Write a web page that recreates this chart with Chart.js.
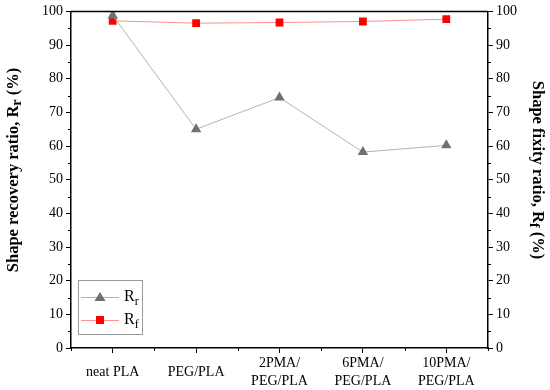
<!DOCTYPE html>
<html>
<head>
<meta charset="utf-8">
<script src="https://cdn.jsdelivr.net/npm/chart.js@4"></script>
<style>
    html, body { margin: 0; padding: 0; background: #fff; }
    #wrap { width: 550px; height: 390px; }
</style>
</head>
<body>
<div id="wrap"><canvas id="grafico"></canvas></div>
<script>
const amostras = ["neat PLA", "PEG/PLA", ["2PMA/", "PEG/PLA"], ["6PMA/", "PEG/PLA"], ["10PMA/", "PEG/PLA"]];
const valoresRr = [98.8, 65.0, 74.4, 58.2, 60.2];
const valoresRf = [97.2, 96.5, 96.7, 97.0, 97.7];

const fonte = "'Liberation Serif', 'Times New Roman', serif";

// minor ticks, top frame, titles with subscripts and the inner legend
const extras = {
    id: "extras",
    afterDraw(chart) {
        const ctx = chart.ctx;
        const area = chart.chartArea;
        const x = chart.scales.x;
        const y = chart.scales.y;
        const y1 = chart.scales.y1;

        ctx.save();
        ctx.strokeStyle = "#000";
        ctx.lineWidth = 1.5;
        ctx.beginPath();
        ctx.moveTo(area.left, area.top);
        ctx.lineTo(area.right, area.top);
        ctx.stroke();

        ctx.lineWidth = 1;
        ctx.beginPath();
        for (let v = 5; v < 100; v += 10) {
            const py = Math.round(y.getPixelForValue(v)) + 0.5;
            ctx.moveTo(area.left, py);
            ctx.lineTo(area.left - 3, py);
            const py1 = Math.round(y1.getPixelForValue(v)) + 0.5;
            ctx.moveTo(area.right, py1);
            ctx.lineTo(area.right + 3, py1);
        }
        const passo = x.getPixelForValue(1) - x.getPixelForValue(0);
        for (let i = 0; i <= amostras.length; i++) {
            const px = Math.round(x.getPixelForValue(0) - passo / 2 + i * passo) + 0.5;
            ctx.moveTo(px, area.bottom);
            ctx.lineTo(px, area.bottom + 3);
        }
        ctx.stroke();

        function tituloComSub(antes, sub, depois) {
            ctx.font = "bold 16.5px " + fonte;
            const w1 = ctx.measureText(antes).width;
            const w3 = ctx.measureText(depois).width;
            ctx.font = "bold 14px " + fonte;
            const w2 = ctx.measureText(sub).width;
            const total = w1 + w2 + w3;
            let cx = -total / 2;
            ctx.textBaseline = "middle";
            ctx.textAlign = "left";
            ctx.font = "bold 16.5px " + fonte;
            ctx.fillText(antes, cx, 0);
            cx += w1;
            ctx.font = "bold 14px " + fonte;
            ctx.fillText(sub, cx, 3);
            cx += w2;
            ctx.font = "bold 16.5px " + fonte;
            ctx.fillText(depois, cx, 0);
        }

        const meio = 170;
        ctx.fillStyle = "#000";
        ctx.save();
        ctx.translate(14, meio);
        ctx.rotate(-Math.PI / 2);
        tituloComSub("Shape recovery ratio, R", "r", " (%)");
        ctx.restore();

        ctx.save();
        ctx.translate(537, meio);
        ctx.rotate(Math.PI / 2);
        tituloComSub("Shape fixity ratio, R", "f", " (%)");
        ctx.restore();

        // legend box
        const lx = area.left + 7, ly = area.bottom - 68, lw = 64, lh = 54;
        ctx.strokeStyle = "#9a9a9a";
        ctx.lineWidth = 1;
        ctx.strokeRect(lx + 0.5, ly + 0.5, lw, lh);

        const itens = [
            { sub: "r", linha: "#b4b4b4", cor: "#707070", tipo: "tri" },
            { sub: "f", linha: "#ff9090", cor: "#ff0000", tipo: "sq" }
        ];
        itens.forEach((it, k) => {
            const cy = ly + 17 + k * 23;
            ctx.strokeStyle = it.linha;
            ctx.beginPath();
            ctx.moveTo(lx + 3, cy + 0.5);
            ctx.lineTo(lx + 41, cy + 0.5);
            ctx.stroke();
            ctx.fillStyle = it.cor;
            const mx = lx + 22;
            if (it.tipo === "tri") {
                ctx.beginPath();
                ctx.moveTo(mx, cy - 5);
                ctx.lineTo(mx + 5.5, cy + 4);
                ctx.lineTo(mx - 5.5, cy + 4);
                ctx.closePath();
                ctx.fill();
            } else {
                ctx.fillRect(mx - 4, cy - 4, 8, 8);
            }
            ctx.fillStyle = "#000";
            ctx.textAlign = "left";
            ctx.textBaseline = "middle";
            ctx.font = "16px " + fonte;
            ctx.fillText("R", lx + 46, cy);
            const wr = ctx.measureText("R").width;
            ctx.font = "12px " + fonte;
            ctx.fillText(it.sub, lx + 46 + wr, cy + 5);
        });
        ctx.restore();
    }
};

new Chart(document.getElementById("grafico"), {
    type: "line",
    data: {
        labels: amostras,
        datasets: [
            {
                label: "Rr",
                data: valoresRr,
                yAxisID: "y",
                borderColor: "#b4b4b4",
                borderWidth: 1,
                backgroundColor: "#707070",
                pointBackgroundColor: "#707070",
                pointBorderWidth: 0,
                pointStyle: "triangle",
                pointRadius: 6,
                tension: 0
            },
            {
                label: "Rf",
                data: valoresRf,
                yAxisID: "y1",
                borderColor: "#ff9090",
                borderWidth: 1,
                backgroundColor: "#ff0000",
                pointBackgroundColor: "#ff0000",
                pointBorderWidth: 0,
                pointStyle: "rect",
                pointRadius: 5.5,
                tension: 0
            }
        ]
    },
    options: {
        responsive: true,
        maintainAspectRatio: false,
        animation: false,
        layout: { padding: { left: 39, right: 30, top: 10, bottom: 0 } },
        plugins: {
            legend: { display: false },
            tooltip: { enabled: false }
        },
        scales: {
            x: {
                offset: true,
                afterFit: escala => { escala.height = 42; },
                border: { color: "#000", width: 1.5 },
                grid: { drawOnChartArea: false, tickLength: 5, color: "#000", offset: false },
                ticks: { color: "#000", font: { family: fonte, size: 14, lineHeight: 1.3 }, maxRotation: 0, autoSkip: false, crossAlign: "center", padding: 10 }
            },
            y: {
                position: "left",
                min: 0, max: 100,
                border: { color: "#000", width: 1.5 },
                grid: { drawOnChartArea: false, tickLength: 5, color: "#000" },
                ticks: { stepSize: 10, color: "#000", font: { family: fonte, size: 14 }, padding: 3 }
            },
            y1: {
                position: "right",
                min: 0, max: 100,
                border: { color: "#000", width: 1.5 },
                grid: { drawOnChartArea: false, tickLength: 5, color: "#000" },
                ticks: { stepSize: 10, color: "#000", font: { family: fonte, size: 14 }, padding: 3 }
            }
        }
    },
    plugins: [extras]
});
</script>
</body>
</html>
